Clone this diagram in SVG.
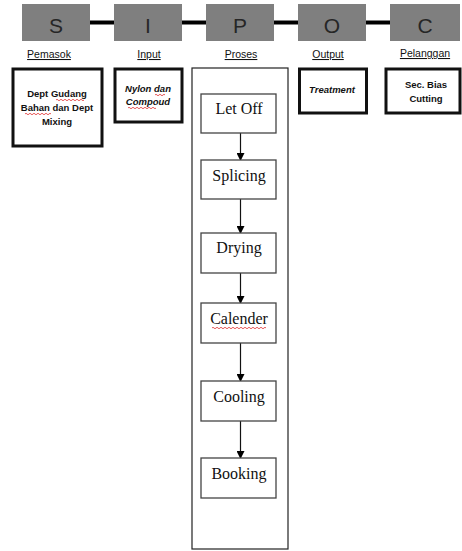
<svg xmlns="http://www.w3.org/2000/svg" width="462" height="551" viewBox="0 0 462 551">
<style>
.hd{fill:#7f7f7f}
.letter{font-family:"Liberation Sans",Arial,sans-serif;font-size:21px;fill:#262626;text-anchor:middle}
.lbl{font-family:"Liberation Sans",Arial,sans-serif;font-size:10.5px;fill:#111;text-anchor:middle;text-decoration:underline}
.bx{fill:#fff;stroke:#111;stroke-width:3}
.bt{font-family:"Liberation Sans",Arial,sans-serif;font-size:9.5px;font-weight:bold;fill:#111;text-anchor:middle}
.it{font-style:italic}
.pb{fill:#fff;stroke:#444;stroke-width:1.3}
.pt{font-family:"Liberation Serif","Times New Roman",serif;font-size:16px;fill:#111;text-anchor:middle}
.sq{fill:none;stroke:#e03030;stroke-width:0.8}
.conn line{stroke:#111;stroke-width:1.2}
.bar{stroke:#000;stroke-width:4}
</style>
<defs>
<marker id="ah" markerWidth="8" markerHeight="8" refX="7" refY="4" orient="auto" markerUnits="userSpaceOnUse">
<path d="M0,0 L8,4 L0,8 Z" fill="#000"/>
</marker>
</defs>

<g id="header-bars">
<line class="bar" x1="90" y1="22.5" x2="114" y2="22.5"/>
<line class="bar" x1="182" y1="22.5" x2="206" y2="22.5"/>
<line class="bar" x1="274" y1="22.5" x2="298" y2="22.5"/>
<line class="bar" x1="366" y1="22.5" x2="390" y2="22.5"/>
</g>

<g id="S"><rect class="hd" x="22" y="4" width="68" height="37"/><text class="letter" x="56" y="33">S</text></g>
<g id="I"><rect class="hd" x="114" y="4" width="68" height="37"/><text class="letter" x="148" y="33">I</text></g>
<g id="P"><rect class="hd" x="206" y="4" width="68" height="37"/><text class="letter" x="240" y="33">P</text></g>
<g id="O"><rect class="hd" x="298" y="4" width="68" height="37"/><text class="letter" x="332" y="33">O</text></g>
<g id="C"><rect class="hd" x="390" y="4" width="70" height="37"/><text class="letter" x="425" y="33">C</text></g>

<g id="labels">
<text class="lbl" x="49" y="58">Pemasok</text>
<text class="lbl" x="149" y="58">Input</text>
<text class="lbl" x="241" y="58">Proses</text>
<text class="lbl" x="328" y="58">Output</text>
<text class="lbl" x="425" y="57">Pelanggan</text>
</g>

<g id="pemasok">
<rect class="bx" x="13" y="69" width="89" height="77"/>
<text class="bt" x="57" y="97">Dept Gudang</text>
<text class="bt" x="57" y="111">Bahan dan Dept</text>
<text class="bt" x="57" y="125">Mixing</text>
<path class="sq" d="M56,100 q1,-1.5 2,0 t2,0 t2,0 t2,0 t2,0 t2,0 t2,0 t2,0 t2,0 t2,0 t2,0 t2,0 t2,0 t2,0"/>
<path class="sq" d="M25,114 q1,-1.5 2,0 t2,0 t2,0 t2,0 t2,0 t2,0 t2,0 t2,0 t2,0 t2,0 t2,0 t2,0 t2,0"/>
</g>

<g id="input">
<rect class="bx" x="115" y="69" width="67" height="53"/>
<text class="bt it" x="148" y="92">Nylon dan</text>
<text class="bt it" x="148" y="105">Compoud</text>
<path class="sq" d="M155,95 q1,-1.5 2,0 t2,0 t2,0 t2,0 t2,0"/>
<path class="sq" d="M128,108 q1,-1.5 2,0 t2,0 t2,0 t2,0 t2,0 t2,0 t2,0 t2,0 t2,0 t2,0 t2,0 t2,0 t2,0 t2,0"/>
</g>

<g id="proses-frame">
<rect x="192" y="68" width="96" height="481" fill="none" stroke="#222" stroke-width="1.2"/>
</g>

<g id="output">
<rect class="bx" x="299.5" y="69" width="67" height="44"/>
<text class="bt it" x="332" y="93">Treatment</text>
</g>

<g id="pelanggan">
<rect class="bx" x="386" y="69" width="74" height="44"/>
<text class="bt" x="426" y="88">Sec. Bias</text>
<text class="bt" x="426" y="102">Cutting</text>
</g>

<g class="conn" id="connectors">
<line x1="240.5" y1="133" x2="240.5" y2="160" marker-end="url(#ah)"/>
<line x1="240.5" y1="199" x2="240.5" y2="233" marker-end="url(#ah)"/>
<line x1="240.5" y1="273" x2="240.5" y2="303" marker-end="url(#ah)"/>
<line x1="240.5" y1="343" x2="240.5" y2="381" marker-end="url(#ah)"/>
<line x1="240.5" y1="421" x2="240.5" y2="458" marker-end="url(#ah)"/>
</g>

<g id="letoff"><rect class="pb" x="201" y="94" width="75" height="39"/><text class="pt" x="239" y="114">Let Off</text></g>
<g id="splicing"><rect class="pb" x="201" y="160" width="75" height="39"/><text class="pt" x="239" y="181">Splicing</text></g>
<g id="drying"><rect class="pb" x="201" y="233" width="75" height="40"/><text class="pt" x="239" y="253">Drying</text></g>
<g id="calender"><rect class="pb" x="201" y="303" width="75" height="40"/><text class="pt" x="239" y="324">Calender</text>
<path class="sq" d="M212,328 q1,-1.5 2,0 t2,0 t2,0 t2,0 t2,0 t2,0 t2,0 t2,0 t2,0 t2,0 t2,0 t2,0 t2,0 t2,0 t2,0 t2,0 t2,0 t2,0 t2,0 t2,0 t2,0 t2,0 t2,0 t2,0 t2,0 t2,0 t2,0"/></g>
<g id="cooling"><rect class="pb" x="201" y="381" width="75" height="40"/><text class="pt" x="239" y="402">Cooling</text></g>
<g id="booking"><rect class="pb" x="201" y="458" width="75" height="40"/><text class="pt" x="239" y="479">Booking</text></g>
</svg>
